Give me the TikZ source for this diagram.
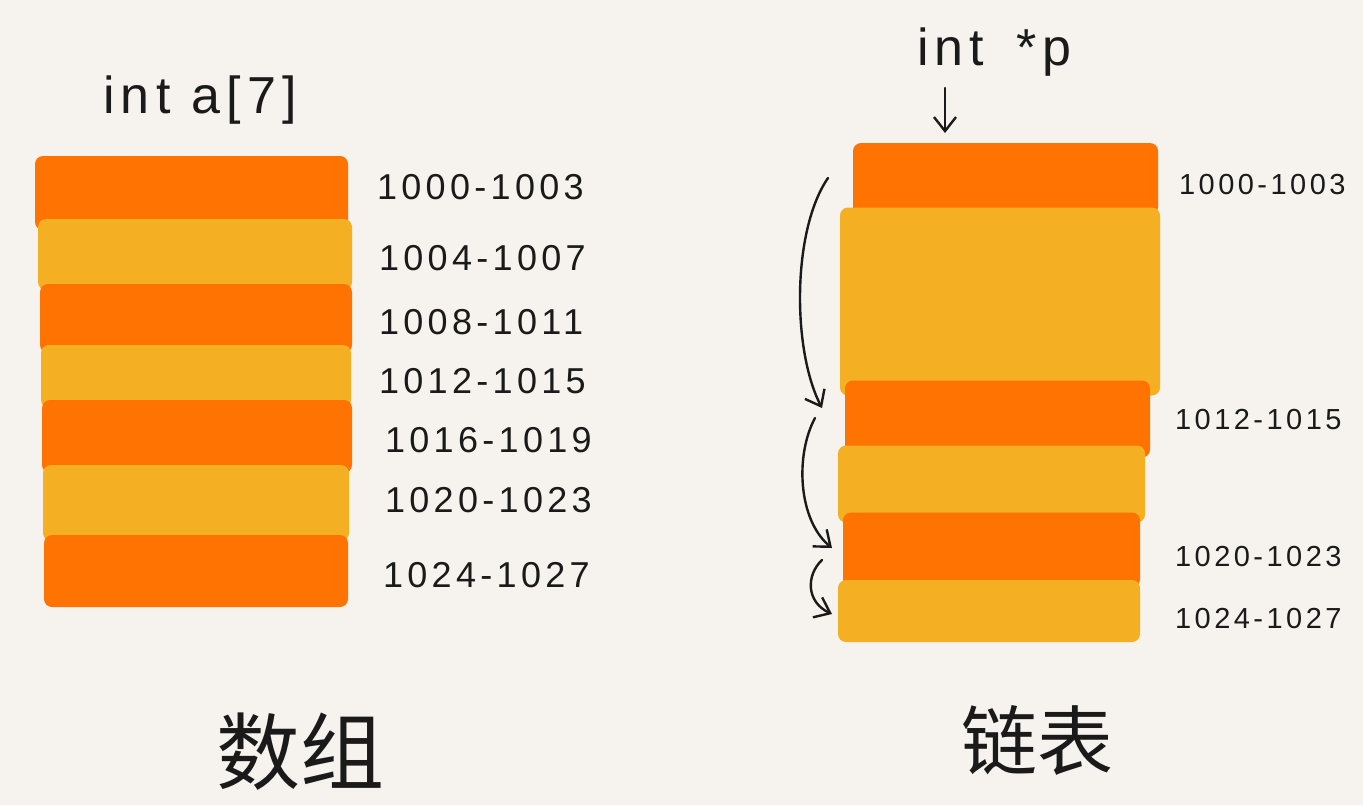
\documentclass[tikz,border=0pt]{standalone}
\usepackage{fontspec}
\setmainfont{Liberation Sans}
\newfontfamily\hand[LetterSpace=12]{Liberation Sans}
\newfontfamily\cjk{Noto Sans CJK SC}
\usetikzlibrary{arrows.meta}
\definecolor{bg}{HTML}{F6F3EE}
\definecolor{org}{HTML}{FF7302}
\definecolor{yel}{HTML}{F4AF22}
\definecolor{ink}{HTML}{1A1A1A}
\begin{document}
\begin{tikzpicture}[x=0.5pt,y=-0.5pt,
  band/.style={rounded corners=4pt, inner sep=0pt, outer sep=0pt},
  ob/.style={band, fill=org},
  yb/.style={band, fill=yel},
  addrL/.style={anchor=west, text=ink, font=\hand\fontsize{18}{18}\selectfont},
  addrR/.style={anchor=west, text=ink, font=\hand\fontsize{14.5}{14.5}\selectfont},
  code/.style={text=ink, font=\hand\fontsize{26}{26}\selectfont},
  title/.style={text=ink, font=\cjk\fontsize{42}{42}\selectfont},
  conn/.style={ink, line width=1.2pt, line cap=round, -{Straight Barb[length=7pt,width=11pt]}}]
\fill[bg] (0,0) rectangle (1363,805);
\useasboundingbox (0,0) rectangle (1363,805);

% ---- array (left) ----
\node[code] (arr) at (200,100) {int a[7]};
\node[ob, minimum width=156.5pt, minimum height=37pt]   (L1) at (191.5,193) {};
\node[yb, minimum width=157pt,   minimum height=35.5pt] (L2) at (195,254.5) {};
\node[ob, minimum width=156pt,   minimum height=34.5pt] (L3) at (196,318.5) {};
\node[yb, minimum width=155pt,   minimum height=31.5pt] (L4) at (196,376.5) {};
\node[ob, minimum width=155pt,   minimum height=36.5pt] (L5) at (197,436.5) {};
\node[yb, minimum width=153pt,   minimum height=38pt]   (L6) at (196,503) {};
\node[ob, minimum width=152pt,   minimum height=36pt]   (L7) at (196,571) {};

\node[addrL] (l1) at (370,187) {1000-1003};
\node[addrL] (l2) at (372,258) {1004-1007};
\node[addrL] (l3) at (372,322) {1008-1011};
\node[addrL] (l4) at (372,381) {1012-1015};
\node[addrL] (l5) at (378,440) {1016-1019};
\node[addrL] (l6) at (378,500) {1020-1023};
\node[addrL] (l7) at (376,575) {1024-1027};

\node[title] (t1) at (300,752) {数组};

% ---- linked list (right) ----
\node[code, anchor=base west] (ptr) at (910,65) {int\hspace{16pt}*p};
\node[ob, minimum width=152.5pt, minimum height=36pt]   (R1) at (1005.5,179) {};
\node[yb, minimum width=160pt,   minimum height=94pt]   (R2) at (1000,301.5) {};
\node[ob, minimum width=152.5pt, minimum height=38.5pt] (R3) at (997.5,419) {};
\node[yb, minimum width=153.5pt, minimum height=38.5pt] (R4) at (991.5,484) {};
\node[ob, minimum width=148.5pt, minimum height=37.5pt] (R5) at (991.5,550) {};
\node[yb, minimum width=151pt,   minimum height=31pt]   (R6) at (989,611) {};

\node[addrR] (r1) at (1172,185) {1000-1003};
\node[addrR] (r3) at (1168,420) {1012-1015};
\node[addrR] (r5) at (1168,556) {1020-1023};
\node[addrR] (r6) at (1168,618) {1024-1027};

\node[title, font=\cjk\fontsize{38}{38}\selectfont] (t2) at (1037,740) {链表};

% ---- pointer arrows ----
\coordinate (p0) at (945,88);
\draw[conn] (p0) -- (p0 |- R1.north) [shorten >=5pt];

\coordinate (a1s) at (828,178);
\coordinate (a1e) at (822,408);
\draw[conn] (a1s) .. controls (792,230) and (792,350) .. (a1e);

\coordinate (a2s) at (815,418);
\coordinate (a2e) at (832,548);
\draw[conn] (a2s) .. controls (795,455) and (798,520) .. (a2e);

\coordinate (a3s) at (822,560);
\coordinate (a3e) at (832,614);
\draw[conn] (a3s) .. controls (806,575) and (806,602) .. (a3e);
\end{tikzpicture}
\end{document}
